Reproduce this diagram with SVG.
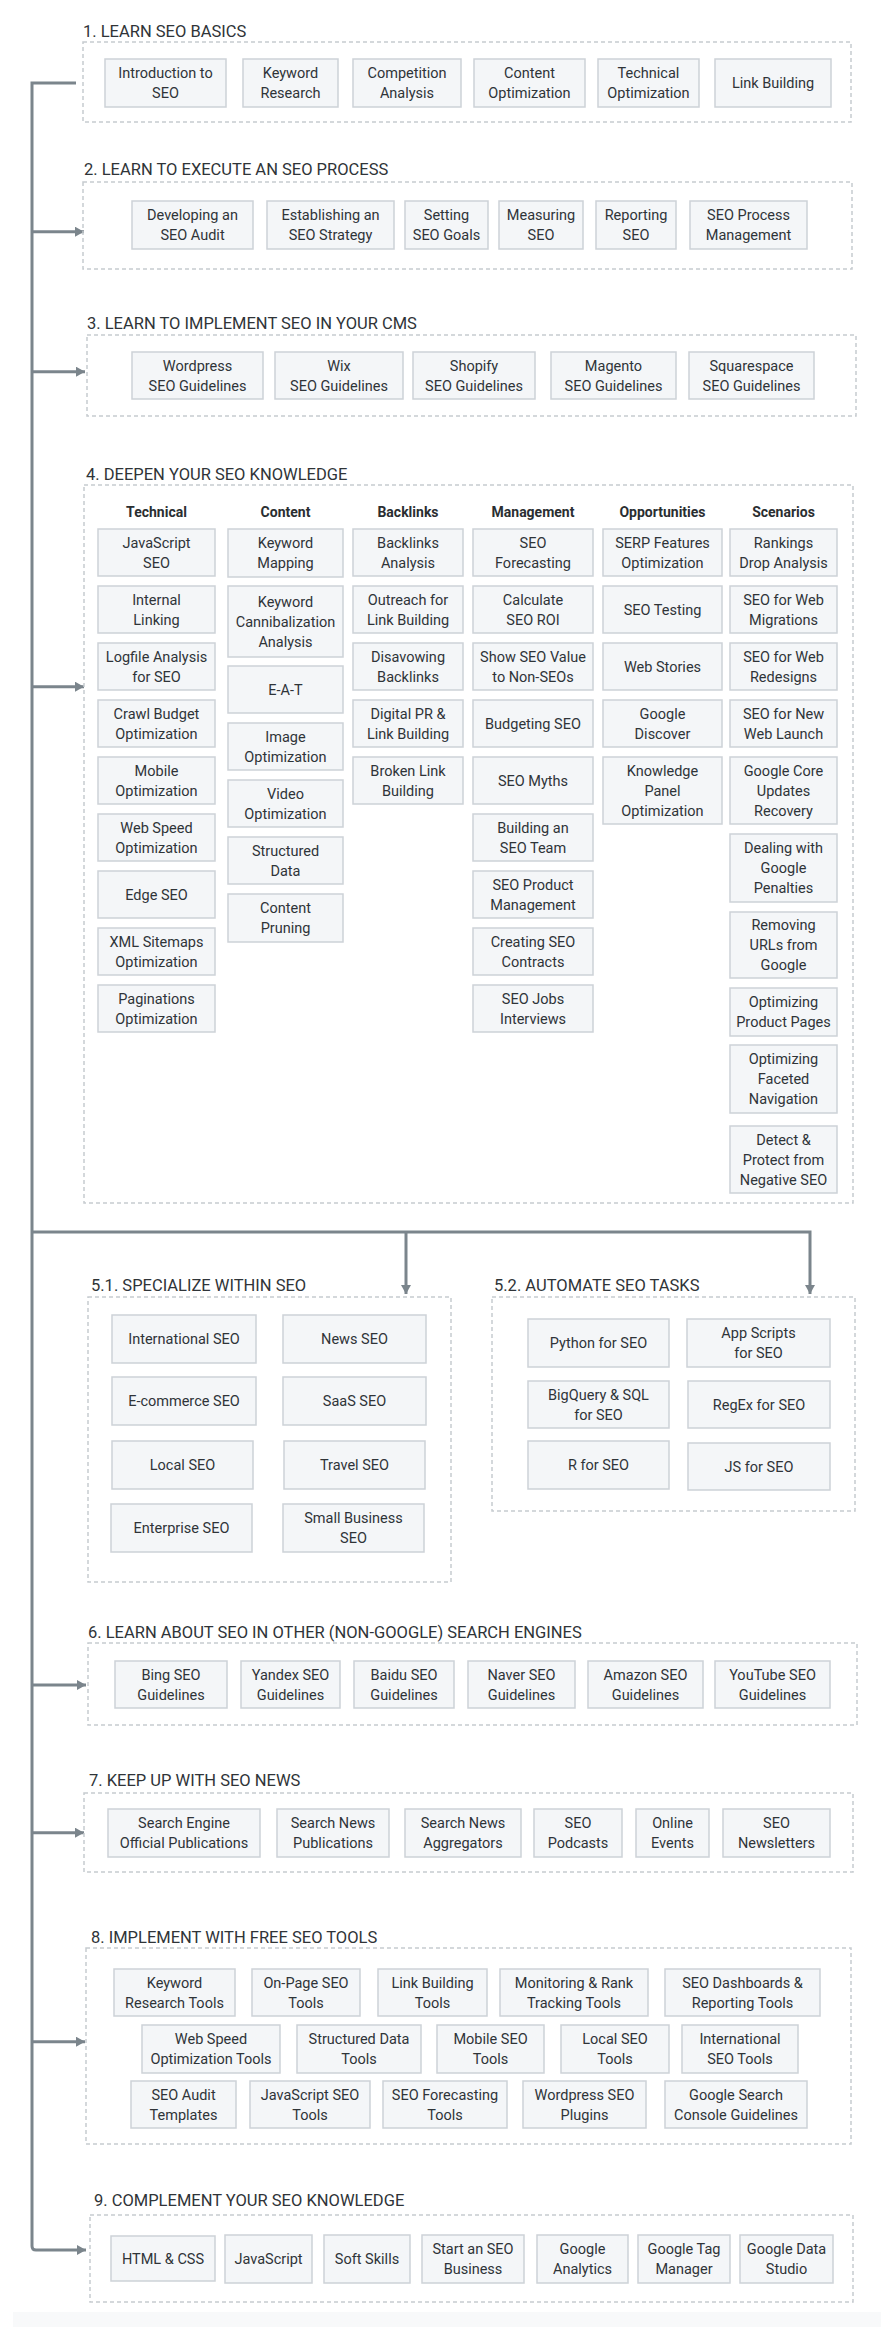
<svg xmlns="http://www.w3.org/2000/svg" width="881" height="2327" viewBox="0 0 881 2327">
<style>
.bg{fill:#ffffff}
.sec{fill:none;stroke:#c6cbd0;stroke-width:1.5;stroke-dasharray:4 3}
.n rect{fill:#f4f6f8;stroke:#cdd2d7;stroke-width:1.5}
.n text{font-family:Roboto,"Liberation Sans",sans-serif;font-size:14.5px;fill:#2f3438;text-anchor:middle}
.t{font-family:Roboto,"Liberation Sans",sans-serif;font-size:16.5px;fill:#2f3438}
.h{font-family:Roboto,"Liberation Sans",sans-serif;font-size:14px;font-weight:bold;fill:#2a2e31;text-anchor:middle}
.c{fill:none;stroke:#7b858c;stroke-width:3}
</style>
<defs>
<marker id="ar" markerUnits="userSpaceOnUse" markerWidth="9" markerHeight="10" refX="9" refY="5" orient="auto">
<path d="M0,0 L9,5 L0,10 z" fill="#7b858c"/>
</marker>
</defs>
<rect class="bg" x="0" y="0" width="881" height="2327"/>
<rect x="13" y="2312" width="868" height="15" fill="#f8f9fa"/>

<g id="connectors">
<path class="c" d="M76,83 H32 V2246 Q32,2250 36,2250 H86" marker-end="url(#ar)"/>
<path class="c" d="M32,231.7 H84" marker-end="url(#ar)"/>
<path class="c" d="M32,371.7 H85" marker-end="url(#ar)"/>
<path class="c" d="M32,686.7 H84" marker-end="url(#ar)"/>
<path class="c" d="M32,1232 H810 V1294" marker-end="url(#ar)"/>
<path class="c" d="M406,1232 V1294" marker-end="url(#ar)"/>
<path class="c" d="M32,1685 H86" marker-end="url(#ar)"/>
<path class="c" d="M32,1832.7 H84" marker-end="url(#ar)"/>
<path class="c" d="M32,2041.7 H85" marker-end="url(#ar)"/>
</g>

<g id="section1">
<text class="t" x="83" y="37">1. LEARN SEO BASICS</text>
<rect class="sec" x="83" y="42" width="768" height="80"/>
<g id="n1_1" class="n"><rect x="105" y="59" width="121" height="48"/><text><tspan x="165.5" y="78">Introduction to</tspan><tspan x="165.5" y="98">SEO</tspan></text></g>
<g id="n1_2" class="n"><rect x="243" y="59" width="95" height="48"/><text><tspan x="290.5" y="78">Keyword</tspan><tspan x="290.5" y="98">Research</tspan></text></g>
<g id="n1_3" class="n"><rect x="353" y="59" width="108" height="48"/><text><tspan x="407" y="78">Competition</tspan><tspan x="407" y="98">Analysis</tspan></text></g>
<g id="n1_4" class="n"><rect x="474" y="59" width="111" height="48"/><text><tspan x="529.5" y="78">Content</tspan><tspan x="529.5" y="98">Optimization</tspan></text></g>
<g id="n1_5" class="n"><rect x="598" y="59" width="101" height="48"/><text><tspan x="648.5" y="78">Technical</tspan><tspan x="648.5" y="98">Optimization</tspan></text></g>
<g id="n1_6" class="n"><rect x="715" y="59" width="116" height="48"/><text x="773" y="88">Link Building</text></g>
</g>

<g id="section2">
<text class="t" x="84" y="175">2. LEARN TO EXECUTE AN SEO PROCESS</text>
<rect class="sec" x="83" y="182" width="769" height="87"/>
<g id="n2_1" class="n"><rect x="132" y="201" width="121" height="48"/><text><tspan x="192.5" y="220">Developing an</tspan><tspan x="192.5" y="240">SEO Audit</tspan></text></g>
<g id="n2_2" class="n"><rect x="267" y="201" width="127" height="48"/><text><tspan x="330.5" y="220">Establishing an</tspan><tspan x="330.5" y="240">SEO Strategy</tspan></text></g>
<g id="n2_3" class="n"><rect x="405" y="201" width="83" height="48"/><text><tspan x="446.5" y="220">Setting</tspan><tspan x="446.5" y="240">SEO Goals</tspan></text></g>
<g id="n2_4" class="n"><rect x="499" y="201" width="84" height="48"/><text><tspan x="541" y="220">Measuring</tspan><tspan x="541" y="240">SEO</tspan></text></g>
<g id="n2_5" class="n"><rect x="596" y="201" width="80" height="48"/><text><tspan x="636" y="220">Reporting</tspan><tspan x="636" y="240">SEO</tspan></text></g>
<g id="n2_6" class="n"><rect x="690" y="201" width="117" height="48"/><text><tspan x="748.5" y="220">SEO Process</tspan><tspan x="748.5" y="240">Management</tspan></text></g>
</g>

<g id="section3">
<text class="t" x="87" y="329">3. LEARN TO IMPLEMENT SEO IN YOUR CMS</text>
<rect class="sec" x="87" y="335" width="769" height="81"/>
<g id="n3_1" class="n"><rect x="132" y="352" width="131" height="47"/><text><tspan x="197.5" y="370.5">Wordpress</tspan><tspan x="197.5" y="390.5">SEO Guidelines</tspan></text></g>
<g id="n3_2" class="n"><rect x="275" y="352" width="128" height="47"/><text><tspan x="339" y="370.5">Wix</tspan><tspan x="339" y="390.5">SEO Guidelines</tspan></text></g>
<g id="n3_3" class="n"><rect x="413" y="352" width="122" height="47"/><text><tspan x="474" y="370.5">Shopify</tspan><tspan x="474" y="390.5">SEO Guidelines</tspan></text></g>
<g id="n3_4" class="n"><rect x="551" y="352" width="125" height="47"/><text><tspan x="613.5" y="370.5">Magento</tspan><tspan x="613.5" y="390.5">SEO Guidelines</tspan></text></g>
<g id="n3_5" class="n"><rect x="689" y="352" width="125" height="47"/><text><tspan x="751.5" y="370.5">Squarespace</tspan><tspan x="751.5" y="390.5">SEO Guidelines</tspan></text></g>
</g>

<g id="section4">
<text class="t" x="86" y="480">4. DEEPEN YOUR SEO KNOWLEDGE</text>
<rect class="sec" x="84" y="485" width="769" height="718"/>
<text class="h" x="156.5" y="517">Technical</text>
<text class="h" x="285.5" y="517">Content</text>
<text class="h" x="408" y="517">Backlinks</text>
<text class="h" x="533" y="517">Management</text>
<text class="h" x="662.5" y="517">Opportunities</text>
<text class="h" x="783.5" y="517">Scenarios</text>

<g id="tech1" class="n"><rect x="98" y="529" width="117" height="47"/><text><tspan x="156.5" y="547.5">JavaScript</tspan><tspan x="156.5" y="567.5">SEO</tspan></text></g>
<g id="tech2" class="n"><rect x="98" y="586" width="117" height="47"/><text><tspan x="156.5" y="604.5">Internal</tspan><tspan x="156.5" y="624.5">Linking</tspan></text></g>
<g id="tech3" class="n"><rect x="98" y="643" width="117" height="47"/><text><tspan x="156.5" y="661.5">Logfile Analysis</tspan><tspan x="156.5" y="681.5">for SEO</tspan></text></g>
<g id="tech4" class="n"><rect x="98" y="700" width="117" height="47"/><text><tspan x="156.5" y="718.5">Crawl Budget</tspan><tspan x="156.5" y="738.5">Optimization</tspan></text></g>
<g id="tech5" class="n"><rect x="98" y="757" width="117" height="47"/><text><tspan x="156.5" y="775.5">Mobile</tspan><tspan x="156.5" y="795.5">Optimization</tspan></text></g>
<g id="tech6" class="n"><rect x="98" y="814" width="117" height="47"/><text><tspan x="156.5" y="832.5">Web Speed</tspan><tspan x="156.5" y="852.5">Optimization</tspan></text></g>
<g id="tech7" class="n"><rect x="98" y="871" width="117" height="47"/><text x="156.5" y="899.5">Edge SEO</text></g>
<g id="tech8" class="n"><rect x="98" y="928" width="117" height="47"/><text><tspan x="156.5" y="946.5">XML Sitemaps</tspan><tspan x="156.5" y="966.5">Optimization</tspan></text></g>
<g id="tech9" class="n"><rect x="98" y="985" width="117" height="47"/><text><tspan x="156.5" y="1003.5">Paginations</tspan><tspan x="156.5" y="1023.5">Optimization</tspan></text></g>

<g id="cont1" class="n"><rect x="228" y="529" width="115" height="48"/><text><tspan x="285.5" y="548">Keyword</tspan><tspan x="285.5" y="568">Mapping</tspan></text></g>
<g id="cont2" class="n"><rect x="228" y="586" width="115" height="71"/><text><tspan x="285.5" y="606.5">Keyword</tspan><tspan x="285.5" y="626.5">Cannibalization</tspan><tspan x="285.5" y="646.5">Analysis</tspan></text></g>
<g id="cont3" class="n"><rect x="228" y="666" width="115" height="47"/><text x="285.5" y="694.5">E-A-T</text></g>
<g id="cont4" class="n"><rect x="228" y="723" width="115" height="47"/><text><tspan x="285.5" y="741.5">Image</tspan><tspan x="285.5" y="761.5">Optimization</tspan></text></g>
<g id="cont5" class="n"><rect x="228" y="780" width="115" height="47"/><text><tspan x="285.5" y="798.5">Video</tspan><tspan x="285.5" y="818.5">Optimization</tspan></text></g>
<g id="cont6" class="n"><rect x="228" y="837" width="115" height="47"/><text><tspan x="285.5" y="855.5">Structured</tspan><tspan x="285.5" y="875.5">Data</tspan></text></g>
<g id="cont7" class="n"><rect x="228" y="894" width="115" height="48"/><text><tspan x="285.5" y="913">Content</tspan><tspan x="285.5" y="933">Pruning</tspan></text></g>

<g id="back1" class="n"><rect x="353" y="529" width="110" height="47"/><text><tspan x="408" y="547.5">Backlinks</tspan><tspan x="408" y="567.5">Analysis</tspan></text></g>
<g id="back2" class="n"><rect x="353" y="586" width="110" height="47"/><text><tspan x="408" y="604.5">Outreach for</tspan><tspan x="408" y="624.5">Link Building</tspan></text></g>
<g id="back3" class="n"><rect x="353" y="643" width="110" height="47"/><text><tspan x="408" y="661.5">Disavowing</tspan><tspan x="408" y="681.5">Backlinks</tspan></text></g>
<g id="back4" class="n"><rect x="353" y="700" width="110" height="47"/><text><tspan x="408" y="718.5">Digital PR &amp;</tspan><tspan x="408" y="738.5">Link Building</tspan></text></g>
<g id="back5" class="n"><rect x="353" y="757" width="110" height="47"/><text><tspan x="408" y="775.5">Broken Link</tspan><tspan x="408" y="795.5">Building</tspan></text></g>

<g id="man1" class="n"><rect x="473" y="529" width="120" height="47"/><text><tspan x="533" y="547.5">SEO</tspan><tspan x="533" y="567.5">Forecasting</tspan></text></g>
<g id="man2" class="n"><rect x="473" y="586" width="120" height="47"/><text><tspan x="533" y="604.5">Calculate</tspan><tspan x="533" y="624.5">SEO ROI</tspan></text></g>
<g id="man3" class="n"><rect x="473" y="643" width="120" height="47"/><text><tspan x="533" y="661.5">Show SEO Value</tspan><tspan x="533" y="681.5">to Non-SEOs</tspan></text></g>
<g id="man4" class="n"><rect x="473" y="700" width="120" height="47"/><text x="533" y="728.5">Budgeting SEO</text></g>
<g id="man5" class="n"><rect x="473" y="757" width="120" height="47"/><text x="533" y="785.5">SEO Myths</text></g>
<g id="man6" class="n"><rect x="473" y="814" width="120" height="47"/><text><tspan x="533" y="832.5">Building an</tspan><tspan x="533" y="852.5">SEO Team</tspan></text></g>
<g id="man7" class="n"><rect x="473" y="871" width="120" height="47"/><text><tspan x="533" y="889.5">SEO Product</tspan><tspan x="533" y="909.5">Management</tspan></text></g>
<g id="man8" class="n"><rect x="473" y="928" width="120" height="47"/><text><tspan x="533" y="946.5">Creating SEO</tspan><tspan x="533" y="966.5">Contracts</tspan></text></g>
<g id="man9" class="n"><rect x="473" y="985" width="120" height="47"/><text><tspan x="533" y="1003.5">SEO Jobs</tspan><tspan x="533" y="1023.5">Interviews</tspan></text></g>

<g id="opp1" class="n"><rect x="603" y="529" width="119" height="47"/><text><tspan x="662.5" y="547.5">SERP Features</tspan><tspan x="662.5" y="567.5">Optimization</tspan></text></g>
<g id="opp2" class="n"><rect x="603" y="586" width="119" height="47"/><text x="662.5" y="614.5">SEO Testing</text></g>
<g id="opp3" class="n"><rect x="603" y="643" width="119" height="47"/><text x="662.5" y="671.5">Web Stories</text></g>
<g id="opp4" class="n"><rect x="603" y="700" width="119" height="47"/><text><tspan x="662.5" y="718.5">Google</tspan><tspan x="662.5" y="738.5">Discover</tspan></text></g>
<g id="opp5" class="n"><rect x="603" y="757" width="119" height="67"/><text><tspan x="662.5" y="775.5">Knowledge</tspan><tspan x="662.5" y="795.5">Panel</tspan><tspan x="662.5" y="815.5">Optimization</tspan></text></g>

<g id="scen1" class="n"><rect x="730" y="529" width="107" height="47"/><text><tspan x="783.5" y="547.5">Rankings</tspan><tspan x="783.5" y="567.5">Drop Analysis</tspan></text></g>
<g id="scen2" class="n"><rect x="730" y="586" width="107" height="47"/><text><tspan x="783.5" y="604.5">SEO for Web</tspan><tspan x="783.5" y="624.5">Migrations</tspan></text></g>
<g id="scen3" class="n"><rect x="730" y="643" width="107" height="47"/><text><tspan x="783.5" y="661.5">SEO for Web</tspan><tspan x="783.5" y="681.5">Redesigns</tspan></text></g>
<g id="scen4" class="n"><rect x="730" y="700" width="107" height="47"/><text><tspan x="783.5" y="718.5">SEO for New</tspan><tspan x="783.5" y="738.5">Web Launch</tspan></text></g>
<g id="scen5" class="n"><rect x="730" y="757" width="107" height="67"/><text><tspan x="783.5" y="775.5">Google Core</tspan><tspan x="783.5" y="795.5">Updates</tspan><tspan x="783.5" y="815.5">Recovery</tspan></text></g>
<g id="scen6" class="n"><rect x="730" y="834" width="107" height="68"/><text><tspan x="783.5" y="853">Dealing with</tspan><tspan x="783.5" y="873">Google</tspan><tspan x="783.5" y="893">Penalties</tspan></text></g>
<g id="scen7" class="n"><rect x="730" y="912" width="107" height="66"/><text><tspan x="783.5" y="930">Removing</tspan><tspan x="783.5" y="950">URLs from</tspan><tspan x="783.5" y="970">Google</tspan></text></g>
<g id="scen8" class="n"><rect x="730" y="988" width="107" height="48"/><text><tspan x="783.5" y="1007">Optimizing</tspan><tspan x="783.5" y="1027">Product Pages</tspan></text></g>
<g id="scen9" class="n"><rect x="730" y="1045" width="107" height="68"/><text><tspan x="783.5" y="1064">Optimizing</tspan><tspan x="783.5" y="1084">Faceted</tspan><tspan x="783.5" y="1104">Navigation</tspan></text></g>
<g id="scen10" class="n"><rect x="730" y="1126" width="107" height="67"/><text><tspan x="783.5" y="1144.5">Detect &amp;</tspan><tspan x="783.5" y="1164.5">Protect from</tspan><tspan x="783.5" y="1184.5">Negative SEO</tspan></text></g>
</g>

<g id="section5_1">
<text class="t" x="91" y="1291">5.1. SPECIALIZE WITHIN SEO</text>
<rect class="sec" x="88" y="1297" width="363" height="285"/>
<g id="s51_1" class="n"><rect x="112" y="1315" width="144" height="48"/><text x="184" y="1344">International SEO</text></g>
<g id="s51_2" class="n"><rect x="283" y="1315" width="143" height="48"/><text x="354.5" y="1344">News SEO</text></g>
<g id="s51_3" class="n"><rect x="112" y="1377" width="144" height="48"/><text x="184" y="1406">E-commerce SEO</text></g>
<g id="s51_4" class="n"><rect x="283" y="1377" width="143" height="48"/><text x="354.5" y="1406">SaaS SEO</text></g>
<g id="s51_5" class="n"><rect x="112" y="1441" width="141" height="48"/><text x="182.5" y="1470">Local SEO</text></g>
<g id="s51_6" class="n"><rect x="284" y="1441" width="141" height="48"/><text x="354.5" y="1470">Travel SEO</text></g>
<g id="s51_7" class="n"><rect x="111" y="1504" width="141" height="48"/><text x="181.5" y="1533">Enterprise SEO</text></g>
<g id="s51_8" class="n"><rect x="283" y="1504" width="141" height="48"/><text><tspan x="353.5" y="1523">Small Business</tspan><tspan x="353.5" y="1543">SEO</tspan></text></g>
</g>

<g id="section5_2">
<text class="t" x="494" y="1291">5.2. AUTOMATE SEO TASKS</text>
<rect class="sec" x="492" y="1297" width="363" height="214"/>
<g id="s52_1" class="n"><rect x="528" y="1319" width="141" height="48"/><text x="598.5" y="1348">Python for SEO</text></g>
<g id="s52_2" class="n"><rect x="687" y="1319" width="143" height="48"/><text><tspan x="758.5" y="1338">App Scripts</tspan><tspan x="758.5" y="1358">for SEO</tspan></text></g>
<g id="s52_3" class="n"><rect x="528" y="1381" width="141" height="47"/><text><tspan x="598.5" y="1399.5">BigQuery &amp; SQL</tspan><tspan x="598.5" y="1419.5">for SEO</tspan></text></g>
<g id="s52_4" class="n"><rect x="688" y="1381" width="142" height="47"/><text x="759" y="1409.5">RegEx for SEO</text></g>
<g id="s52_5" class="n"><rect x="528" y="1441" width="141" height="48"/><text x="598.5" y="1470">R for SEO</text></g>
<g id="s52_6" class="n"><rect x="688" y="1443" width="142" height="47"/><text x="759" y="1471.5">JS for SEO</text></g>
</g>

<g id="section6">
<text class="t" x="88" y="1638">6. LEARN ABOUT SEO IN OTHER (NON-GOOGLE) SEARCH ENGINES</text>
<rect class="sec" x="88" y="1643" width="769" height="82"/>
<g id="n6_1" class="n"><rect x="115" y="1661" width="112" height="47"/><text><tspan x="171" y="1679.5">Bing SEO</tspan><tspan x="171" y="1699.5">Guidelines</tspan></text></g>
<g id="n6_2" class="n"><rect x="241" y="1661" width="99" height="47"/><text><tspan x="290.5" y="1679.5">Yandex SEO</tspan><tspan x="290.5" y="1699.5">Guidelines</tspan></text></g>
<g id="n6_3" class="n"><rect x="354" y="1661" width="100" height="47"/><text><tspan x="404" y="1679.5">Baidu SEO</tspan><tspan x="404" y="1699.5">Guidelines</tspan></text></g>
<g id="n6_4" class="n"><rect x="468" y="1661" width="107" height="47"/><text><tspan x="521.5" y="1679.5">Naver SEO</tspan><tspan x="521.5" y="1699.5">Guidelines</tspan></text></g>
<g id="n6_5" class="n"><rect x="588" y="1661" width="115" height="47"/><text><tspan x="645.5" y="1679.5">Amazon SEO</tspan><tspan x="645.5" y="1699.5">Guidelines</tspan></text></g>
<g id="n6_6" class="n"><rect x="715" y="1661" width="115" height="47"/><text><tspan x="772.5" y="1679.5">YouTube SEO</tspan><tspan x="772.5" y="1699.5">Guidelines</tspan></text></g>
</g>

<g id="section7">
<text class="t" x="89" y="1786">7. KEEP UP WITH SEO NEWS</text>
<rect class="sec" x="84" y="1793" width="769" height="79"/>
<g id="n7_1" class="n"><rect x="108" y="1809" width="152" height="48"/><text><tspan x="184" y="1828">Search Engine</tspan><tspan x="184" y="1848">Official Publications</tspan></text></g>
<g id="n7_2" class="n"><rect x="277" y="1809" width="112" height="48"/><text><tspan x="333" y="1828">Search News</tspan><tspan x="333" y="1848">Publications</tspan></text></g>
<g id="n7_3" class="n"><rect x="405" y="1809" width="116" height="48"/><text><tspan x="463" y="1828">Search News</tspan><tspan x="463" y="1848">Aggregators</tspan></text></g>
<g id="n7_4" class="n"><rect x="534" y="1809" width="88" height="48"/><text><tspan x="578" y="1828">SEO</tspan><tspan x="578" y="1848">Podcasts</tspan></text></g>
<g id="n7_5" class="n"><rect x="636" y="1809" width="73" height="48"/><text><tspan x="672.5" y="1828">Online</tspan><tspan x="672.5" y="1848">Events</tspan></text></g>
<g id="n7_6" class="n"><rect x="723" y="1809" width="107" height="48"/><text><tspan x="776.5" y="1828">SEO</tspan><tspan x="776.5" y="1848">Newsletters</tspan></text></g>
</g>

<g id="section8">
<text class="t" x="91" y="1943">8. IMPLEMENT WITH FREE SEO TOOLS</text>
<rect class="sec" x="86" y="1948" width="765" height="196"/>
<g id="n8_1" class="n"><rect x="114" y="1969" width="121" height="47"/><text><tspan x="174.5" y="1987.5">Keyword</tspan><tspan x="174.5" y="2007.5">Research Tools</tspan></text></g>
<g id="n8_2" class="n"><rect x="252" y="1969" width="108" height="47"/><text><tspan x="306" y="1987.5">On-Page SEO</tspan><tspan x="306" y="2007.5">Tools</tspan></text></g>
<g id="n8_3" class="n"><rect x="378" y="1969" width="109" height="47"/><text><tspan x="432.5" y="1987.5">Link Building</tspan><tspan x="432.5" y="2007.5">Tools</tspan></text></g>
<g id="n8_4" class="n"><rect x="500" y="1969" width="148" height="47"/><text><tspan x="574" y="1987.5">Monitoring &amp; Rank</tspan><tspan x="574" y="2007.5">Tracking Tools</tspan></text></g>
<g id="n8_5" class="n"><rect x="665" y="1969" width="155" height="47"/><text><tspan x="742.5" y="1987.5">SEO Dashboards &amp;</tspan><tspan x="742.5" y="2007.5">Reporting Tools</tspan></text></g>
<g id="n8_6" class="n"><rect x="142" y="2025" width="138" height="48"/><text><tspan x="211" y="2044">Web Speed</tspan><tspan x="211" y="2064">Optimization Tools</tspan></text></g>
<g id="n8_7" class="n"><rect x="297" y="2025" width="124" height="48"/><text><tspan x="359" y="2044">Structured Data</tspan><tspan x="359" y="2064">Tools</tspan></text></g>
<g id="n8_8" class="n"><rect x="437" y="2025" width="107" height="48"/><text><tspan x="490.5" y="2044">Mobile SEO</tspan><tspan x="490.5" y="2064">Tools</tspan></text></g>
<g id="n8_9" class="n"><rect x="561" y="2025" width="108" height="48"/><text><tspan x="615" y="2044">Local SEO</tspan><tspan x="615" y="2064">Tools</tspan></text></g>
<g id="n8_10" class="n"><rect x="682" y="2025" width="116" height="48"/><text><tspan x="740" y="2044">International</tspan><tspan x="740" y="2064">SEO Tools</tspan></text></g>
<g id="n8_11" class="n"><rect x="131" y="2081" width="105" height="47"/><text><tspan x="183.5" y="2099.5">SEO Audit</tspan><tspan x="183.5" y="2119.5">Templates</tspan></text></g>
<g id="n8_12" class="n"><rect x="250" y="2081" width="120" height="47"/><text><tspan x="310" y="2099.5">JavaScript SEO</tspan><tspan x="310" y="2119.5">Tools</tspan></text></g>
<g id="n8_13" class="n"><rect x="383" y="2081" width="124" height="47"/><text><tspan x="445" y="2099.5">SEO Forecasting</tspan><tspan x="445" y="2119.5">Tools</tspan></text></g>
<g id="n8_14" class="n"><rect x="523" y="2081" width="123" height="47"/><text><tspan x="584.5" y="2099.5">Wordpress SEO</tspan><tspan x="584.5" y="2119.5">Plugins</tspan></text></g>
<g id="n8_15" class="n"><rect x="665" y="2081" width="142" height="47"/><text><tspan x="736" y="2099.5">Google Search</tspan><tspan x="736" y="2119.5">Console Guidelines</tspan></text></g>
</g>

<g id="section9">
<text class="t" x="94" y="2206">9. COMPLEMENT YOUR SEO KNOWLEDGE</text>
<rect class="sec" x="90" y="2215" width="763" height="87"/>
<g id="n9_1" class="n"><rect x="111" y="2236" width="104" height="45"/><text x="163" y="2263.5">HTML &amp; CSS</text></g>
<g id="n9_2" class="n"><rect x="225" y="2235" width="87" height="48"/><text x="268.5" y="2264">JavaScript</text></g>
<g id="n9_3" class="n"><rect x="324" y="2235" width="86" height="48"/><text x="367" y="2264">Soft Skills</text></g>
<g id="n9_4" class="n"><rect x="422" y="2235" width="102" height="48"/><text><tspan x="473" y="2254">Start an SEO</tspan><tspan x="473" y="2274">Business</tspan></text></g>
<g id="n9_5" class="n"><rect x="537" y="2235" width="91" height="48"/><text><tspan x="582.5" y="2254">Google</tspan><tspan x="582.5" y="2274">Analytics</tspan></text></g>
<g id="n9_6" class="n"><rect x="638" y="2235" width="92" height="48"/><text><tspan x="684" y="2254">Google Tag</tspan><tspan x="684" y="2274">Manager</tspan></text></g>
<g id="n9_7" class="n"><rect x="740" y="2235" width="93" height="48"/><text><tspan x="786.5" y="2254">Google Data</tspan><tspan x="786.5" y="2274">Studio</tspan></text></g>
</g>
</svg>
